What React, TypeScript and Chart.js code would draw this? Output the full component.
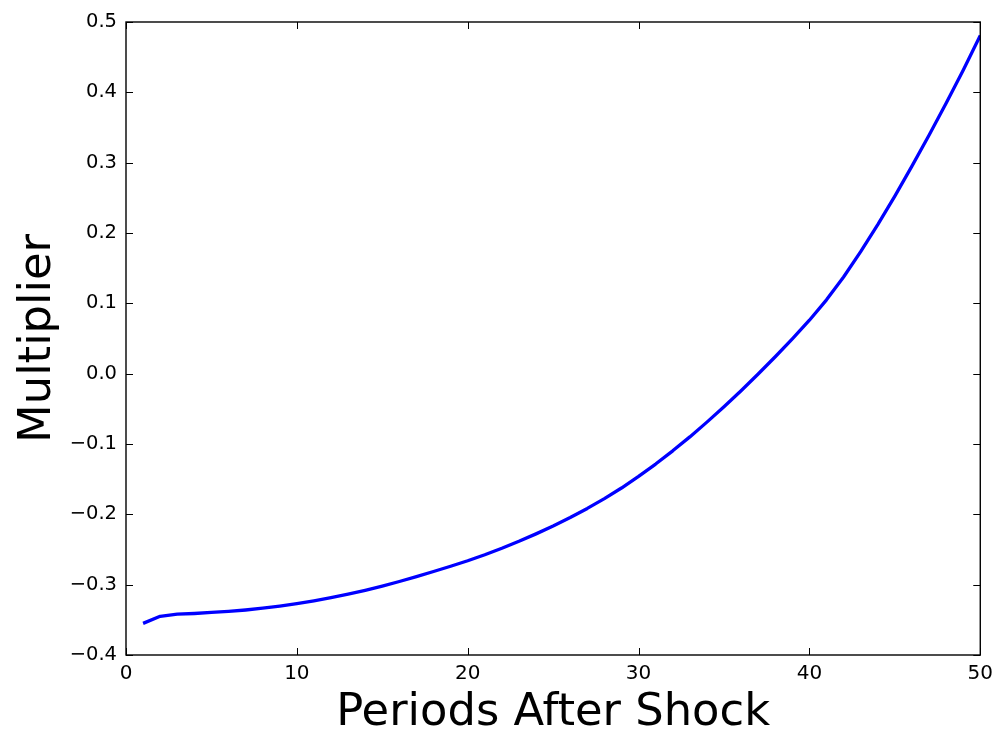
import React, { useEffect, useRef } from "react";
import { Chart, registerables } from "chart.js";

Chart.register(...registerables);

// Periods after the shock (x) and the estimated multiplier (y)
const periods: number[] = [
  1, 2, 3, 4, 5, 6, 7, 8, 9, 10,
  11, 12, 13, 14, 15, 16, 17, 18, 19, 20,
  21, 22, 23, 24, 25, 26, 27, 28, 29, 30,
  31, 32, 33, 34, 35, 36, 37, 38, 39, 40,
  41, 42, 43, 44, 45, 46, 47, 48, 49, 50,
];

const multiplier: number[] = [
  -0.355, -0.345, -0.342, -0.341, -0.3395, -0.338, -0.336, -0.3335, -0.3305, -0.327,
  -0.323, -0.3185, -0.3135, -0.308, -0.302, -0.2955, -0.2885, -0.2813, -0.2738, -0.266,
  -0.2575, -0.2483, -0.2384, -0.2278, -0.2166, -0.2046, -0.1916, -0.1776, -0.1626, -0.146,
  -0.1285, -0.1097, -0.0899, -0.0689, -0.047, -0.0242, -0.0005, 0.0241, 0.0496, 0.076,
  0.105, 0.1375, 0.1735, 0.212, 0.2525, 0.295, 0.339, 0.3845, 0.4315, 0.481,
];

const xLabel = "Periods After Shock";
const yLabel = "Multiplier";

const FONT = "'DejaVu Sans', 'Liberation Sans', sans-serif";

const fmtTick = (v: number) => {
  if (Math.abs(v) < 1e-9) return "0.0";
  const s = Math.abs(v).toFixed(1);
  return v < 0 ? "\u2212" + s : s;
};

// Draws the axes frame on all four sides with inward-pointing tick marks
const frameTicks = {
  id: "frameTicks",
  afterDatasetsDraw(chart: any) {
    const { ctx, chartArea, scales } = chart;
    const { left, right, top, bottom } = chartArea;
    const len = 7;
    ctx.save();
    ctx.strokeStyle = "#000";
    ctx.lineWidth = 1;
    ctx.beginPath();
    scales.x.ticks.forEach((t: any) => {
      const px = Math.round(scales.x.getPixelForValue(t.value)) + 0.5;
      ctx.moveTo(px, bottom);
      ctx.lineTo(px, bottom - len);
      ctx.moveTo(px, top);
      ctx.lineTo(px, top + len);
    });
    scales.y.ticks.forEach((t: any) => {
      const py = Math.round(scales.y.getPixelForValue(t.value)) + 0.5;
      ctx.moveTo(left, py);
      ctx.lineTo(left + len, py);
      ctx.moveTo(right, py);
      ctx.lineTo(right - len, py);
    });
    ctx.stroke();
    ctx.lineWidth = 1.4;
    ctx.strokeRect(left, top, right - left, bottom - top);
    ctx.restore();
  },
};

export default function App() {
  const canvasRef = useRef<HTMLCanvasElement | null>(null);

  useEffect(() => {
    if (!canvasRef.current) return;
    const chart = new Chart(canvasRef.current, {
      type: "line",
      data: {
        datasets: [
          {
            data: periods.map((p, i) => ({ x: p, y: multiplier[i] })),
            borderColor: "#0000ff",
            borderWidth: 3.3,
            pointRadius: 0,
            tension: 0,
            fill: false,
            borderJoinStyle: "round",
            borderCapStyle: "butt",
          },
        ],
      },
      options: {
        animation: false,
        responsive: false,
        devicePixelRatio: 1,
        layout: { padding: { left: 0, top: 22, right: 19, bottom: 0 } },
        plugins: {
          legend: { display: false },
          tooltip: { enabled: false },
        },
        scales: {
          x: {
            type: "linear",
            min: 0,
            max: 50,
            grid: { display: false, drawTicks: false },
            border: { display: false },
            ticks: {
              stepSize: 10,
              padding: 7,
              color: "#000",
              font: { family: FONT, size: 20 },
              maxRotation: 0,
            },
            title: {
              display: true,
              text: xLabel,
              color: "#000",
              font: { family: FONT, size: 44.8, lineHeight: 1 },
              padding: { top: 0, bottom: 0 },
            },
            afterFit(scale: any) {
              scale.height = 81;
            },
          },
          y: {
            type: "linear",
            min: -0.4,
            max: 0.5,
            grid: { display: false, drawTicks: false },
            border: { display: false },
            ticks: {
              stepSize: 0.1,
              padding: 9,
              color: "#000",
              font: { family: FONT, size: 19.5 },
              callback: (v: any) => fmtTick(Number(v)),
            },
            title: {
              display: true,
              text: yLabel,
              color: "#000",
              font: { family: FONT, size: 44.8, lineHeight: 1 },
              padding: { top: 16, bottom: 0 },
            },
            afterFit(scale: any) {
              scale.width = 126;
            },
          },
        },
      },
      plugins: [frameTicks],
    });
    return () => chart.destroy();
  }, []);

  return (
    <div style={{ position: "absolute", left: 0, top: 0, width: 1000, height: 736, background: "#fff" }}>
      <canvas ref={canvasRef} width={1000} height={736} />
    </div>
  );
}
